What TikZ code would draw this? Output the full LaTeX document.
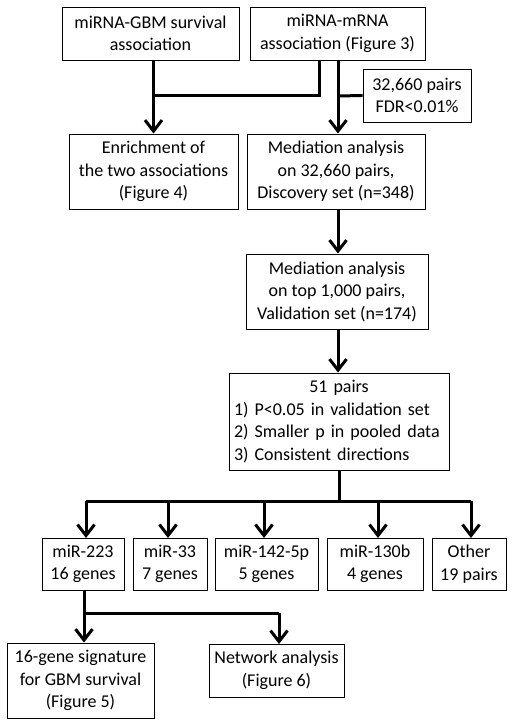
\documentclass[tikz,border=0pt]{standalone}
\usepackage{fontspec}
\setmainfont{Carlito}
\usetikzlibrary{arrows.meta}

\begin{document}
\begin{tikzpicture}[x=1pt,y=-1pt,
  font=\fontsize{18}{22.5}\selectfont,
  box node/.style={draw,line width=0.9pt,inner sep=0pt,align=center},
  flow/.style={line width=3pt,-{Straight Barb[length=11pt,width=17pt]}},
  bus/.style={line width=3pt}]
  \useasboundingbox (0,0) rectangle (514,727);
  \node[box node,minimum width=177,minimum height=53] (gbm) at (150.5,33.5) {miRNA-GBM survival\\association};
  \node[box node,minimum width=175,minimum height=53] (mrna) at (337.5,33.5) {miRNA-mRNA\\association (Figure 3)};
  \node[box node,minimum width=108,minimum height=53] (fdr) at (417,95.5) {32,660 pairs\\FDR<0.01\%};
  \node[box node,minimum width=169,minimum height=75] (enrich) at (153.5,171.5) {Enrichment of\\the two associations\\(Figure 4)};
  \node[box node,minimum width=178,minimum height=75] (disc) at (336,171.5) {Mediation analysis\\on 32,660 pairs,\\Discovery set (n=348)};
  \node[box node,minimum width=182,minimum height=75] (valid) at (337,291.5) {Mediation analysis\\on top 1,000 pairs,\\Validation set (n=174)};
  \node[box node,minimum width=220,minimum height=97,text width=210,align=left] (pairs) at (339,421.5)
    {{\centering 51 pairs\par}\raggedright 1) P<0.05 in validation set\\2) Smaller p in pooled data\\3) Consistent directions};
  \node[box node,minimum width=82,minimum height=52] (mir223) at (83,564) {miR-223\\16 genes};
  \node[box node,minimum width=74,minimum height=52] (mir33) at (170,564) {miR-33\\7 genes};
  \node[box node,minimum width=103,minimum height=52] (mir142) at (266.5,564) {miR-142-5p\\5 genes};
  \node[box node,minimum width=96,minimum height=52] (mir130) at (375,564) {miR-130b\\4 genes};
  \node[box node,minimum width=74,minimum height=52] (other) at (469,564) {Other\\19 pairs};
  \node[box node,minimum width=147,minimum height=75] (sig) at (80.5,680.5) {16-gene signature\\for GBM survival\\(Figure 5)};
  \node[box node,minimum width=135,minimum height=53] (net) at (276.5,670.5) {Network analysis\\(Figure 6)};

  \coordinate (j1) at (319,96);
  \coordinate (j2) at (338,96);
  \coordinate (j3) at (339,501);
  \coordinate (j4) at (84,613);

  \draw[flow] (enrich.north |- gbm.south) -- (enrich.north);
  \draw[bus] (mrna.south -| j1) -- (j1) -- (j1 -| enrich.north);
  \draw[flow] (mrna.south -| j2) -- (disc.north -| j2);
  \draw[bus] (fdr.west) -- (j2);
  \draw[flow] (disc.south -| j2) -- (valid.north -| j2);
  \draw[flow] (valid.south -| j2) -- (pairs.north -| j2);
  \draw[bus] (pairs.south -| j3) -- (j3);
  \draw[bus] (86,501) -- (471,501);
  \draw[flow] (86,501) -- (86,538);
  \draw[flow] (168,501) -- (168,538);
  \draw[flow] (264,501) -- (264,538);
  \draw[flow] (378,501) -- (378,538);
  \draw[flow] (471,501) -- (471,538);
  \draw[bus] (mir223.south -| j4) -- (j4) -- (279,613);
  \draw[flow] (j4) -- (sig.north -| j4);
  \draw[flow] (279,613) -- (279,644);
\end{tikzpicture}
\end{document}
